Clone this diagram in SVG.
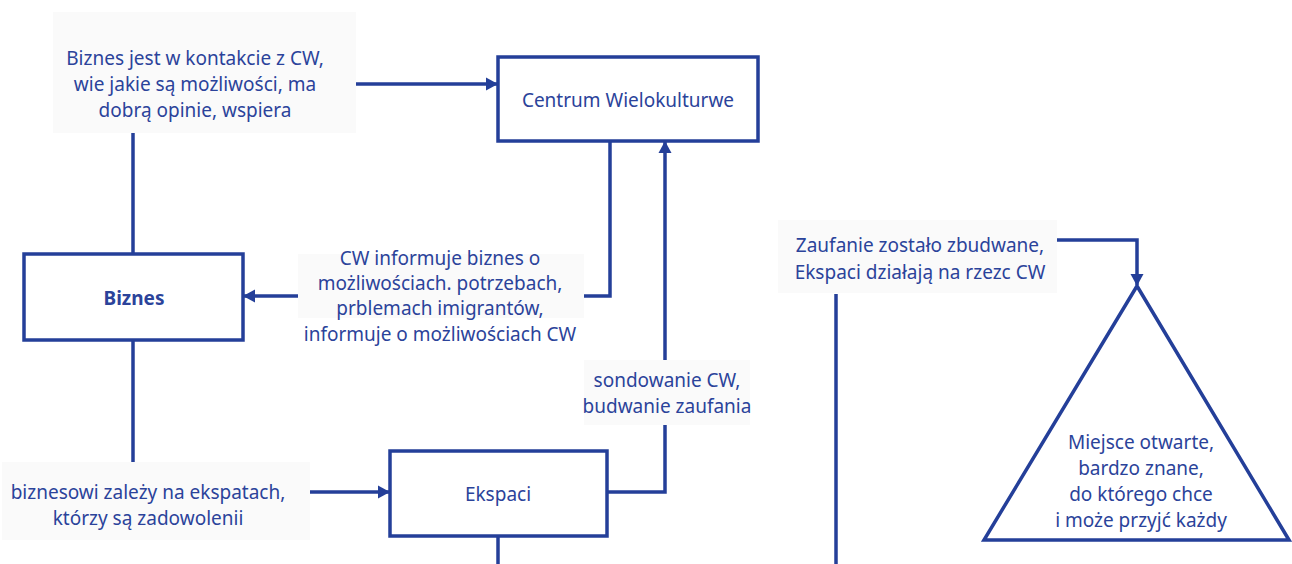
<svg xmlns="http://www.w3.org/2000/svg" width="1292" height="564" viewBox="0 0 1292 564">
<defs>
<marker id="ah" viewBox="0 0 12 14" refX="11" refY="7" markerWidth="12" markerHeight="14" markerUnits="userSpaceOnUse" orient="auto">
<path d="M0,0.5 L12,7 L0,13.5 Z" fill="#243f99"/>
</marker>
<style>
.box{fill:#ffffff;stroke:#243f99;stroke-width:3.5}
.lbg{fill:#fafafa}
.t{font-family:"Noto Sans","Open Sans",sans-serif;font-size:19px;fill:#2b439a;text-anchor:middle;dominant-baseline:central}
.b{font-weight:bold}
.c{fill:none;stroke:#243f99;stroke-width:3.5}
</style>
</defs>
<rect width="1292" height="564" fill="#ffffff"/>
<g id="connectors">
<line class="c" x1="133" y1="133" x2="133" y2="254"/>
<line class="c" x1="133" y1="340" x2="133" y2="462"/>
<line class="c" x1="356" y1="84" x2="497" y2="84" marker-end="url(#ah)"/>
<polyline class="c" points="610,141 610,296 584,296"/>
<line class="c" x1="298" y1="296" x2="244" y2="296" marker-end="url(#ah)"/>
<line class="c" x1="310" y1="492" x2="389" y2="492" marker-end="url(#ah)"/>
<polyline class="c" points="608,492 665,492 665,425"/>
<line class="c" x1="665" y1="360" x2="665" y2="142" marker-end="url(#ah)"/>
<line class="c" x1="498" y1="537" x2="498" y2="564"/>
<polyline class="c" points="1057,240 1137,240 1137,285" marker-end="url(#ah)"/>
<line class="c" x1="836" y1="294" x2="836" y2="564"/>
</g>
<g id="label-biznes-cw">
<rect class="lbg" x="53" y="12" width="303" height="121"/>
<text class="t" x="195" y="58">Biznes jest w kontakcie z CW,</text>
<text class="t" x="195" y="84">wie jakie są możliwości, ma</text>
<text class="t" x="195" y="110">dobrą opinie, wspiera</text>
</g>
<g id="node-cw">
<rect class="box" x="498" y="57" width="260" height="84"/>
<text class="t" x="628" y="100">Centrum Wielokulturwe</text>
</g>
<g id="node-biznes">
<rect class="box" x="24" y="254" width="219" height="86"/>
<text class="t b" x="134" y="298">Biznes</text>
</g>
<g id="label-cw-biznes">
<rect class="lbg" x="298" y="254" width="286" height="64"/>
<text class="t" x="440" y="258">CW informuje biznes o</text>
<text class="t" x="440" y="283">możliwościach. potrzebach,</text>
<text class="t" x="440" y="308">prblemach imigrantów,</text>
<text class="t" x="440" y="334">informuje o możliwościach CW</text>
</g>
<g id="label-biznes-ekspaci">
<rect class="lbg" x="2" y="462" width="308" height="78"/>
<text class="t" x="148" y="492">biznesowi zależy na ekspatach,</text>
<text class="t" x="148" y="518">którzy są zadowolenii</text>
</g>
<g id="node-ekspaci">
<rect class="box" x="390" y="451" width="217" height="85"/>
<text class="t" x="498" y="494">Ekspaci</text>
</g>
<g id="label-ekspaci-cw">
<rect class="lbg" x="584" y="360" width="166" height="65"/>
<text class="t" x="667" y="380">sondowanie CW,</text>
<text class="t" x="667" y="406">budwanie zaufania</text>
</g>
<g id="label-zaufanie">
<rect class="lbg" x="778" y="220" width="279" height="73"/>
<text class="t" x="920" y="245">Zaufanie zostało zbudwane,</text>
<text class="t" x="920" y="272">Ekspaci działają na rzezc CW</text>
</g>
<g id="node-miejsce">
<polygon class="box" points="1137,286 1289,540 984,540"/>
<text class="t" x="1141" y="442">Miejsce otwarte,</text>
<text class="t" x="1141" y="468">bardzo znane,</text>
<text class="t" x="1141" y="494">do którego chce</text>
<text class="t" x="1141" y="520">i może przyjć każdy</text>
</g>
</svg>
